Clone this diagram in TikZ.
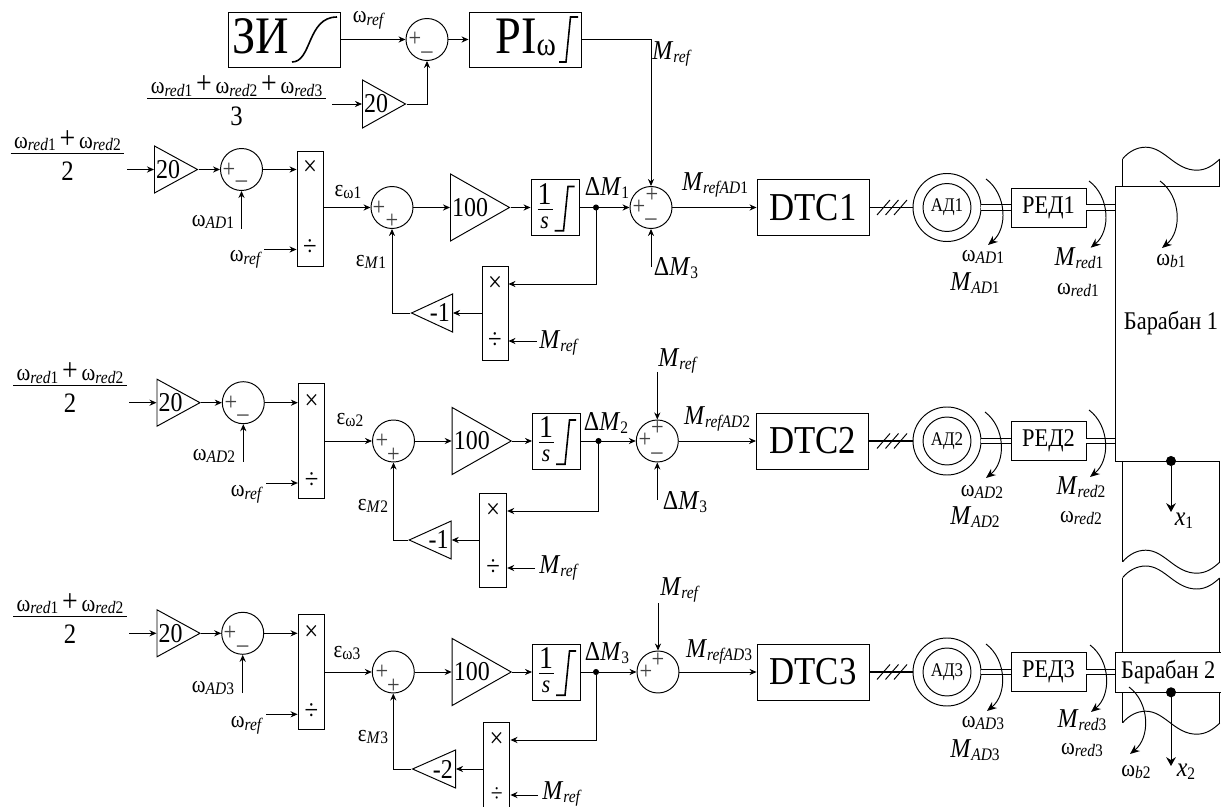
\documentclass[tikz,border=0pt]{standalone}
\usepackage{fontspec}
\setmainfont{Liberation Serif}[FakeStretch=0.88]
\usepackage{tikz}
\usetikzlibrary{arrows.meta, shapes.geometric}
\def\px{0.02cm}
\newcommand{\sbs}[2]{\raisebox{-1.5pt}{\fontsize{10}{10}\selectfont\textit{#1}#2}}
\newcommand{\wl}[2]{{\fontsize{13.5}{15}\selectfont ω}\sbs{#1}{#2}}
\newcommand{\el}[2]{{\fontsize{13.5}{15}\selectfont ε}\sbs{#1}{#2}}
\newcommand{\ml}[2]{{\fontsize{15.5}{16}\selectfont\textit{M}}\sbs{#1}{#2}}
\newcommand{\dl}[1]{{\fontsize{15.5}{16}\selectfont Δ\textit{M}}\sbs{}{#1}}
\newcommand{\bigp}{{\fontsize{18}{15}\selectfont +}}
\newcommand{\fr}[2]{\setlength{\arrayrulewidth}{0.55pt}\begin{tabular}{@{\hspace{2pt}}c@{\hspace{2pt}}}#1\\[-1pt]\hline\rule{0pt}{15pt}{\fontsize{16}{16}\selectfont #2}\end{tabular}}
\tikzset{
  blk/.style 2 args={draw, inner sep=0pt, minimum width=#1*\px, minimum height=#2*\px},
  amp/.style 2 args={draw, isosceles triangle, isosceles triangle stretches, inner sep=0pt, shape border rotate=0, minimum height=#1*\px, minimum width=#2*\px, anchor=lower side},
  ampl/.style 2 args={amp={#1}{#2}, shape border rotate=180},
  summ/.style={draw, circle, inner sep=0pt, minimum size=42*\px},
  motor/.style={draw, circle, inner sep=0pt, minimum size=68*\px},
  motori/.style={draw, circle, inner sep=0pt, minimum size=48*\px, font=\fontsize{11}{11}\selectfont},
  dot/.style={draw, fill, circle, inner sep=0pt, minimum size=5*\px},
  bdot/.style={draw, fill, circle, inner sep=0pt, minimum size=9*\px},
  txt/.style={inner sep=0pt},
  num/.style={inner sep=0pt, font=\fontsize{15.5}{16}\selectfont},
  sgn/.style={inner sep=0pt, text=black!75, font=\fontsize{14.5}{14}\selectfont},
  opr/.style={inner sep=0pt, font=\fontsize{16}{16}\selectfont},
  big/.style={inner sep=0pt, font=\fontsize{22.5}{23}\selectfont},
  bigt/.style={inner sep=0pt, font=\fontsize{30}{30}\selectfont, anchor=base west},
  lbl/.style={inner sep=0pt, font=\fontsize{14.5}{15}\selectfont},
  torq/.style={->, >={Stealth[length=5.5pt,width=4.5pt]}, bend left=52},
  shaft/.style={double, double distance=2.4pt},
  trans/.style={->, >={Stealth[length=5pt,width=5.5pt]}},
  intgr/.pic={
    \node[inner sep=0pt, font=\fontsize{18}{18}\selectfont] (one) at (14,15) {1};
    \node[inner sep=0pt, font=\fontsize{14}{14}\itshape\selectfont] (ess) at (14,43.5) {s};
    \draw[line width=0.3pt] (7,30) -- (22,30);
    \draw[line width=0.9pt] (24,51.7) -- (33,51.7) -- (37.5,7.5) -- (44,7.5);
  },
  wavy/.pic={
    \draw (0,0) .. controls (6,-7) and (14,-11.5) .. (23,-11.5) .. controls (42,-11.5) and (52,11.5) .. (74,11.5) .. controls (84,11.5) and (91,6) .. (97,0.5);
  }
}
\begin{document}
\begin{tikzpicture}[x=0.02cm, y=-0.02cm, line width=0.55pt, >={Stealth[length=4pt,width=3.5pt]}]
    \useasboundingbox (0,0) rectangle (1221,807);
    \clip (0,0) rectangle (1221,807);
    % speed loop
    \node[blk={112}{55}] (zi) at (284,39.5) {};
    \node[bigt] (zit) at (232,53.5) {ЗИ};
    \draw[line width=0.9pt] (292,62) .. controls (312,62) and (307,17) .. (337,17);
    \node[summ] (s0) at (427,39.5) {};
    \node[sgn] (s0a) at (415,39.5) {+}; \node[sgn] (s0b) at (427,55) {\textendash};
    \node[blk={112}{55}] (pi) at (525,39.5) {};
    \node[bigt] (pit) at (495,53.5) {PI\raisebox{-1pt}{\fontsize{19}{15}\selectfont ω}};
    \draw[line width=0.9pt] (559,62) -- (566,62) -- (570.5,17) -- (578,17);
    \node[txt] (wr0) at (369,20) {\wl{ref}{}};
    \node[txt] (f0) at (236.5,104) {\fr{\wl{red}{1} \bigp{} \wl{red}{2} \bigp{} \wl{red}{3}}{3}};
    \coordinate (f0o) at (332,104);
    \node[amp={43}{48}] (g0) at (362,104) {}; \node[num, anchor=west] (g0t) at ([xshift=1pt]g0.lower side) {20};
    \node[txt] (mr0) at (672,54) {\ml{ref}{}};
    \draw[->] (zi.east) -- (s0.west); \draw[->] (s0.east) -- (pi.west);
    \draw[->] (f0o) -- (g0.lower side); \draw[->] (g0.apex) -| (s0.south);

    % drive 1
    \node[txt] (f1) at (67.5,158.5) {\fr{\wl{red}{1} \bigp{} \wl{red}{2}}{2}};
    \coordinate (f1o) at (127,169.5);
    \node[amp={43}{47}] (g1) at (154,169.5) {}; \node[num, anchor=west] (g1t) at ([xshift=1pt]g1.lower side) {20};
    \node[summ] (sa1) at (241.5,169.5) {};
    \node[sgn] (sa1a) at (229,170) {+}; \node[sgn] (sa1b) at (241.5,184.5) {\textendash};
    \node[blk={26}{115}] (mu1) at (310,208.5) {};
    \node[opr] (mu1a) at (310,168) {×}; \node[opr] (mu1b) at (310,248) {÷};
    \coordinate (wa1) at (241.5,229); \node[txt] (wa1t) at (213,222) {\wl{AD}{1}};
    \coordinate (wr1) at (264,249.5); \node[txt] (wr1t) at (246,259) {\wl{ref}{}};
    \node[summ] (sb1) at (392,207.5) {};
    \node[sgn] (sb1a) at (379,208) {+}; \node[sgn] (sb1b) at (392,221) {+};
    \node[txt] (ew1) at (348,192) {\el{}{ω1}}; \node[txt] (em1) at (371,262) {\el{M}{1}};
    \node[amp={59}{67}] (k1) at (450,207.5) {}; \node[num, anchor=west] (k1t) at ([xshift=1pt]k1.lower side) {100};
    \node[blk={48}{56}] (i1) at (555,207.5) {}; \pic (i1i) at (i1.north west) {intgr};
    \node[dot] (n1) at (596,207.5) {}; \node[txt] (dm1) at (607,188) {\dl{1}};
    \node[summ] (sc1) at (651,207.5) {};
    \node[sgn] (sc1a) at (639,207) {+}; \node[sgn] (sc1b) at (652,195) {+}; \node[sgn] (sc1c) at (651,222) {\textendash};
    \coordinate (d3a) at (651,267); \node[txt] (d3at) at (676,268) {\dl{3}};
    \node[txt] (mr1) at (715,185) {\ml{refAD}{1}};
    \node[blk={112}{56}] (dtc1) at (813,207.5) {}; \node[big] (dtc1t) at (813,207.5) {DTC1};
    \node[blk={26}{94}] (mf1) at (495,313) {};
    \node[opr] (mf1a) at (495,284) {×}; \node[opr] (mf1b) at (495,341) {÷};
    \coordinate (mi1) at (537,341); \node[txt] (mi1t) at (559,343) {\ml{ref}{}};
    \node[ampl={41}{38}] (gf1) at (453,313) {}; \node[num, anchor=east] (gf1t) at ([xshift=-1.5pt]gf1.lower side) {-1};
    \draw[->] (f1o) -- (g1.lower side); \draw[->] (g1.apex) -- (sa1.west); \draw[->] (sa1.east) -- (mu1.west |- sa1.east);
    \draw[->] (wa1) -- (sa1.south); \draw[->] (wr1) -- (mu1.west |- wr1);
    \draw[->] (mu1.east |- sb1.west) -- (sb1.west); \draw[->] (sb1.east) -- (k1.lower side);
    \draw[->] (k1.apex) -- (i1.west); \draw (i1.east) -- (n1); \draw[->] (n1) -- (sc1.west);
    \draw[->] (n1) |- (mf1.east |- mf1a); \draw[->] (mi1) -- (mf1.east |- mi1);
    \draw[->] (mf1.west) -- (gf1.lower side); \draw[->] (gf1.apex) -| (sb1.south);
    \draw[->] (pi.east) -| (sc1.north); \draw[->] (d3a) -- (sc1.south); \draw[->] (sc1.east) -- (dtc1.west);

    % drive 2
    \node[txt] (f2) at (70,391) {\fr{\wl{red}{1} \bigp{} \wl{red}{2}}{2}};
    \coordinate (f2o) at (129,402.7);
    \node[amp={43}{47}] (g2) at (156.5,402.7) {}; \node[num, anchor=west] (g2t) at ([xshift=1pt]g2.lower side) {20};
    \node[summ] (sa2) at (243.3,402.7) {};
    \node[sgn] (sa2a) at (231,403) {+}; \node[sgn] (sa2b) at (243,418) {\textendash};
    \node[blk={26.5}{115.5}] (mu2) at (311.6,441.2) {};
    \node[opr] (mu2a) at (311.6,402) {×}; \node[opr] (mu2b) at (311.6,481) {÷};
    \coordinate (wa2) at (243.3,462); \node[txt] (wa2t) at (214,456) {\wl{AD}{2}};
    \coordinate (wr2) at (266,483); \node[txt] (wr2t) at (247,494) {\wl{ref}{}};
    \node[summ] (sb2) at (393.5,441) {};
    \node[sgn] (sb2a) at (382,441) {+}; \node[sgn] (sb2b) at (393.5,455) {+};
    \node[txt] (ew2) at (350,420) {\el{}{ω2}}; \node[txt] (em2) at (373,506) {\el{M}{2}};
    \node[amp={59}{67}] (k2) at (451.7,441) {}; \node[num, anchor=west] (k2t) at ([xshift=1pt]k2.lower side) {100};
    \node[blk={48}{56}] (i2) at (556.5,441) {}; \pic (i2i) at (i2.north west) {intgr};
    \node[dot] (n2) at (598.5,441) {}; \node[txt] (dm2) at (606,423) {\dl{2}};
    \node[summ] (sc2) at (657.3,441) {};
    \node[sgn] (sc2a) at (645,440.5) {+}; \node[sgn] (sc2b) at (657.5,428) {+}; \node[sgn] (sc2c) at (657,456) {\textendash};
    \coordinate (mt2) at (657.3,372); \node[txt] (mt2t) at (678,361) {\ml{ref}{}};
    \coordinate (d3b) at (657.3,500); \node[txt] (d3bt) at (685,502) {\dl{3}};
    \node[txt] (mr2) at (717,419) {\ml{refAD}{2}};
    \node[blk={112}{56}] (dtc2) at (812.5,441) {}; \node[big] (dtc2t) at (812.5,441) {DTC2};
    \node[blk={27}{94}] (mf2) at (493.2,540) {};
    \node[opr] (mf2a) at (493.2,511) {×}; \node[opr] (mf2b) at (493.2,568) {÷};
    \coordinate (mi2) at (535,568); \node[txt] (mi2t) at (559,568) {\ml{ref}{}};
    \node[ampl={42}{38}] (gf2) at (451.7,540) {}; \node[num, anchor=east] (gf2t) at ([xshift=-1.5pt]gf2.lower side) {-1};
    \draw[->] (f2o) -- (g2.lower side); \draw[->] (g2.apex) -- (sa2.west); \draw[->] (sa2.east) -- (mu2.west |- sa2.east);
    \draw[->] (wa2) -- (sa2.south); \draw[->] (wr2) -- (mu2.west |- wr2);
    \draw[->] (mu2.east |- sb2.west) -- (sb2.west); \draw[->] (sb2.east) -- (k2.lower side);
    \draw[->] (k2.apex) -- (i2.west); \draw (i2.east) -- (n2); \draw[->] (n2) -- (sc2.west);
    \draw[->] (n2) |- (mf2.east |- mf2a); \draw[->] (mi2) -- (mf2.east |- mi2);
    \draw[->] (mf2.west) -- (gf2.lower side); \draw[->] (gf2.apex) -| (sb2.south);
    \draw[->] (mt2) -- (sc2.north); \draw[->] (d3b) -- (sc2.south); \draw[->] (sc2.east) -- (dtc2.west);

    % drive 3
    \node[txt] (f3) at (70,621.5) {\fr{\wl{red}{1} \bigp{} \wl{red}{2}}{2}};
    \coordinate (f3o) at (129,633.3);
    \node[amp={43}{47}] (g3) at (156.5,633.3) {}; \node[num, anchor=west] (g3t) at ([xshift=1pt]g3.lower side) {20};
    \node[summ] (sa3) at (242.7,633.3) {};
    \node[sgn] (sa3a) at (230,633.5) {+}; \node[sgn] (sa3b) at (242.7,649) {\textendash};
    \node[blk={26.5}{115.5}] (mu3) at (311.3,672) {};
    \node[opr] (mu3a) at (311.3,633) {×}; \node[opr] (mu3b) at (311.3,712) {÷};
    \coordinate (wa3) at (242.7,693); \node[txt] (wa3t) at (213,688) {\wl{AD}{3}};
    \coordinate (wr3) at (266,714.3); \node[txt] (wr3t) at (247,725) {\wl{ref}{}};
    \node[summ] (sb3) at (393.3,672) {};
    \node[sgn] (sb3a) at (382,672) {+}; \node[sgn] (sb3b) at (393.5,686) {+};
    \node[txt] (ew3) at (347,653) {\el{}{ω3}}; \node[txt] (em3) at (373,737) {\el{M}{3}};
    \node[amp={59}{67}] (k3) at (451.7,672) {}; \node[num, anchor=west] (k3t) at ([xshift=1pt]k3.lower side) {100};
    \node[blk={48}{56}] (i3) at (556.5,672) {}; \pic (i3i) at (i3.north west) {intgr};
    \node[dot] (n3) at (596,672) {}; \node[txt] (dm3) at (607,653) {\dl{3}};
    \node[summ] (sc3) at (658,672) {};
    \node[sgn] (sc3a) at (646,672.5) {+}; \node[sgn] (sc3b) at (658,660) {+};
    \coordinate (mt3) at (658,603); \node[txt] (mt3t) at (680,590) {\ml{ref}{}};
    \node[txt] (mr3) at (719,652) {\ml{refAD}{3}};
    \node[blk={112}{56}] (dtc3) at (813,672) {}; \node[big] (dtc3t) at (813,672) {DTC3};
    \node[blk={26.5}{94}] (mf3) at (496.7,769) {};
    \node[opr] (mf3a) at (496.7,740) {×}; \node[opr, font=\fontsize{14}{14}\selectfont] (mf3b) at (496.7,795) {÷};
    \coordinate (mi3) at (538,795); \node[txt] (mi3t) at (562,794) {\ml{ref}{}};
    \node[ampl={43}{38}] (gf3) at (456,769) {}; \node[num, anchor=east] (gf3t) at ([xshift=-1.5pt]gf3.lower side) {-2};
    \draw[->] (f3o) -- (g3.lower side); \draw[->] (g3.apex) -- (sa3.west); \draw[->] (sa3.east) -- (mu3.west |- sa3.east);
    \draw[->] (wa3) -- (sa3.south); \draw[->] (wr3) -- (mu3.west |- wr3);
    \draw[->] (mu3.east |- sb3.west) -- (sb3.west); \draw[->] (sb3.east) -- (k3.lower side);
    \draw[->] (k3.apex) -- (i3.west); \draw (i3.east) -- (n3); \draw[->] (n3) -- (sc3.west);
    \draw[->] (n3) |- (mf3.east |- mf3a); \draw[->] (mi3) -- (mf3.east |- mi3);
    \draw[->] (mf3.west) -- (gf3.lower side); \draw[->] (gf3.apex) -| (sb3.south);
    \draw[->] (mt3) -- (sc3.north); \draw[->] (sc3.east) -- (dtc3.west);

    % motors and gears
    \node[motor] (ad1) at (947,207.5) {}; \node[motori] (ad1i) at (947,207.5) {АД1};
    \node[motor] (ad2) at (947,441) {}; \node[motori] (ad2i) at (947,441) {АД2};
    \node[motor] (ad3) at (947,672) {}; \node[motori] (ad3i) at (947,672) {АД3};
    \node[blk={75}{39}, lbl] (red1) at (1048.5,207.5) {РЕД1};
    \node[blk={75}{39}, lbl] (red2) at (1048.5,441) {РЕД2};
    \node[blk={75}{39}, lbl] (red3) at (1048.5,672) {РЕД3};
    \coordinate (b1) at (1115.3,207.5); \coordinate (b2) at (1115.3,441); \coordinate (b3) at (1115.3,672);
    \draw[line width=0.9pt] (dtc1.east) -- (ad1.west); \draw[line width=0.9pt] (dtc2.east) -- (ad2.west); \draw[line width=0.9pt] (dtc3.east) -- (ad3.west);
    \foreach \y in {207.5,441,672} \foreach \d in {877,885.5,894} \draw (\d,\y+7.5) -- ++(13,-15);
    \draw[shaft] (ad1.east) -- (red1.west); \draw[shaft] (ad2.east) -- (red2.west); \draw[shaft] (ad3.east) -- (red3.west);
    \draw[shaft] (red1.east) -- (b1); \draw[shaft] (red2.east) -- (b2); \draw[shaft] (red3.east) -- (b3);

    % torque arrows
    \coordinate (ta1) at (986,179); \coordinate (ta1e) at (988,245); \draw[torq] (ta1) to (ta1e);
    \coordinate (tb1) at (1089,181); \coordinate (tb1e) at (1090.7,247.7); \draw[torq] (tb1) to (tb1e);
    \coordinate (tc1) at (1160,181); \coordinate (tc1e) at (1162,248); \draw[torq] (tc1) to (tc1e);
    \coordinate (ta2) at (985,412); \coordinate (ta2e) at (986,478); \draw[torq] (ta2) to (ta2e);
    \coordinate (tb2) at (1089,410); \coordinate (tb2e) at (1090,477); \draw[torq] (tb2) to (tb2e);
    \coordinate (ta3) at (986,644); \coordinate (ta3e) at (987,711); \draw[torq] (ta3) to (ta3e);
    \coordinate (tb3) at (1090,645); \coordinate (tb3e) at (1091,712); \draw[torq] (tb3) to (tb3e);
    \coordinate (tc3) at (1129,687); \coordinate (tc3e) at (1130,754); \draw[torq] (tc3) to (tc3e);
    \node[txt] (wad1) at (983,257) {\wl{AD}{1}}; \node[txt] (mad1) at (975,283) {\ml{AD}{1}};
    \node[txt] (mrd1) at (1079,258) {\ml{red}{1}}; \node[txt] (wrd1) at (1078,290) {\wl{red}{1}};
    \node[txt] (wb1) at (1171,261) {\wl{b}{1}};
    \node[txt] (wad2) at (982,492) {\wl{AD}{2}}; \node[txt] (mad2) at (975,517) {\ml{AD}{2}};
    \node[txt] (mrd2) at (1081,487) {\ml{red}{2}}; \node[txt] (wrd2) at (1081,518) {\wl{red}{2}};
    \node[txt] (wad3) at (983,723) {\wl{AD}{3}}; \node[txt] (mad3) at (975,750) {\ml{AD}{3}};
    \node[txt] (mrd3) at (1082,720) {\ml{red}{3}}; \node[txt] (wrd3) at (1082,750) {\wl{red}{3}};
    \node[txt] (wb2) at (1136,772) {\wl{b}{2}};

    % drums
    \draw (1219.5,186.7) -- (1115.3,186.7) -- (1115.3,461) -- (1219.5,461);
    \draw (1122.7,186.7) -- (1122.7,158.7); \pic (w0) at (1122.7,158.7) {wavy}; \draw (1219.5,158.7) -- (1219.5,186.7);
    \draw (1122.7,461) -- (1122.7,561.7); \pic (w1) at (1122.7,561.7) {wavy}; \draw (1219.5,461) -- (1219.5,562);
    \draw (1122.7,652.3) -- (1122.7,577.5); \pic (w2) at (1122.7,577.5) {wavy}; \draw (1219.5,652.3) -- (1219.5,577.5);
    \draw (1122.7,692.3) -- (1122.7,722.7); \pic (w3) at (1122.7,722.7) {wavy}; \draw (1219.5,692.3) -- (1219.5,723);
    \node[lbl] (dr1) at (1171,323) {Барабан 1};
    \node[blk={106}{40}, lbl] (dr2) at (1168.3,672.3) {Барабан 2};
    \node[bdot] (x1n) at (1171,461) {}; \coordinate (x1e) at (1171,512);
    \node[bdot] (x2n) at (1171,692.3) {}; \coordinate (x2e) at (1171,766);
    \draw[trans] (x1n) -- (x1e); \draw[trans] (x2n) -- (x2e);
    \node[txt] (x1t) at (1184,521) {{\fontsize{15.5}{16}\itshape\selectfont x}\sbs{}{1}};
    \node[txt] (x2t) at (1186,772) {{\fontsize{15.5}{16}\itshape\selectfont x}\sbs{}{2}};
  \end{tikzpicture}
\end{document}
